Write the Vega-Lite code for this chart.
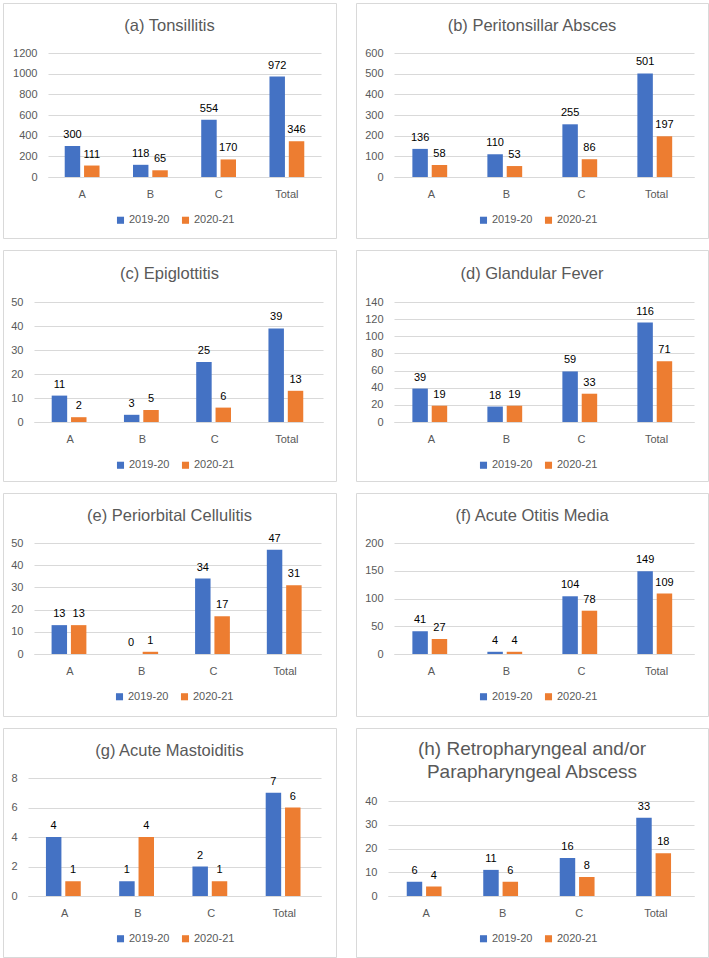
{
  "$schema": "https://vega.github.io/schema/vega-lite/v6.json",
  "padding": {"left": 2, "top": 2, "right": 0, "bottom": 0},
  "background": "white",
  "datasets": {
    "d": [
      {"p": "a", "c": "A", "s": "2019-20", "v": 300}, {"p": "a", "c": "A", "s": "2020-21", "v": 111},
      {"p": "a", "c": "B", "s": "2019-20", "v": 118}, {"p": "a", "c": "B", "s": "2020-21", "v": 65},
      {"p": "a", "c": "C", "s": "2019-20", "v": 554}, {"p": "a", "c": "C", "s": "2020-21", "v": 170},
      {"p": "a", "c": "Total", "s": "2019-20", "v": 972}, {"p": "a", "c": "Total", "s": "2020-21", "v": 346},
      {"p": "b", "c": "A", "s": "2019-20", "v": 136}, {"p": "b", "c": "A", "s": "2020-21", "v": 58},
      {"p": "b", "c": "B", "s": "2019-20", "v": 110}, {"p": "b", "c": "B", "s": "2020-21", "v": 53},
      {"p": "b", "c": "C", "s": "2019-20", "v": 255}, {"p": "b", "c": "C", "s": "2020-21", "v": 86},
      {"p": "b", "c": "Total", "s": "2019-20", "v": 501}, {"p": "b", "c": "Total", "s": "2020-21", "v": 197},
      {"p": "c", "c": "A", "s": "2019-20", "v": 11}, {"p": "c", "c": "A", "s": "2020-21", "v": 2},
      {"p": "c", "c": "B", "s": "2019-20", "v": 3}, {"p": "c", "c": "B", "s": "2020-21", "v": 5},
      {"p": "c", "c": "C", "s": "2019-20", "v": 25}, {"p": "c", "c": "C", "s": "2020-21", "v": 6},
      {"p": "c", "c": "Total", "s": "2019-20", "v": 39}, {"p": "c", "c": "Total", "s": "2020-21", "v": 13},
      {"p": "d", "c": "A", "s": "2019-20", "v": 39}, {"p": "d", "c": "A", "s": "2020-21", "v": 19},
      {"p": "d", "c": "B", "s": "2019-20", "v": 18}, {"p": "d", "c": "B", "s": "2020-21", "v": 19},
      {"p": "d", "c": "C", "s": "2019-20", "v": 59}, {"p": "d", "c": "C", "s": "2020-21", "v": 33},
      {"p": "d", "c": "Total", "s": "2019-20", "v": 116}, {"p": "d", "c": "Total", "s": "2020-21", "v": 71},
      {"p": "e", "c": "A", "s": "2019-20", "v": 13}, {"p": "e", "c": "A", "s": "2020-21", "v": 13},
      {"p": "e", "c": "B", "s": "2019-20", "v": 0}, {"p": "e", "c": "B", "s": "2020-21", "v": 1},
      {"p": "e", "c": "C", "s": "2019-20", "v": 34}, {"p": "e", "c": "C", "s": "2020-21", "v": 17},
      {"p": "e", "c": "Total", "s": "2019-20", "v": 47}, {"p": "e", "c": "Total", "s": "2020-21", "v": 31},
      {"p": "f", "c": "A", "s": "2019-20", "v": 41}, {"p": "f", "c": "A", "s": "2020-21", "v": 27},
      {"p": "f", "c": "B", "s": "2019-20", "v": 4}, {"p": "f", "c": "B", "s": "2020-21", "v": 4},
      {"p": "f", "c": "C", "s": "2019-20", "v": 104}, {"p": "f", "c": "C", "s": "2020-21", "v": 78},
      {"p": "f", "c": "Total", "s": "2019-20", "v": 149}, {"p": "f", "c": "Total", "s": "2020-21", "v": 109},
      {"p": "g", "c": "A", "s": "2019-20", "v": 4}, {"p": "g", "c": "A", "s": "2020-21", "v": 1},
      {"p": "g", "c": "B", "s": "2019-20", "v": 1}, {"p": "g", "c": "B", "s": "2020-21", "v": 4},
      {"p": "g", "c": "C", "s": "2019-20", "v": 2}, {"p": "g", "c": "C", "s": "2020-21", "v": 1},
      {"p": "g", "c": "Total", "s": "2019-20", "v": 7}, {"p": "g", "c": "Total", "s": "2020-21", "v": 6},
      {"p": "h", "c": "A", "s": "2019-20", "v": 6}, {"p": "h", "c": "A", "s": "2020-21", "v": 4},
      {"p": "h", "c": "B", "s": "2019-20", "v": 11}, {"p": "h", "c": "B", "s": "2020-21", "v": 6},
      {"p": "h", "c": "C", "s": "2019-20", "v": 16}, {"p": "h", "c": "C", "s": "2020-21", "v": 8},
      {"p": "h", "c": "Total", "s": "2019-20", "v": 33}, {"p": "h", "c": "Total", "s": "2020-21", "v": 18}
    ]
  },
  "columns": 2,
  "spacing": {"row": 12, "column": 20},
  "bounds": "flush",
  "align": "each",
  "resolve": {"scale": {"color": "independent"}, "legend": {"color": "independent"}},
  "concat": [
    {
      "width": 333, "height": 235,
      "title": {"text": "(a) Tonsillitis", "offset": -31},
      "data": {"name": "d"},
      "transform": [{"filter": "datum.p == 'a'"}],
      "encoding": {
        "x": {"field": "c", "type": "nominal", "sort": ["A", "B", "C", "Total"], "scale": {"range": [45, 318], "paddingInner": 0.49, "paddingOuter": 0.245}, "axis": {"offset": -61, "title": null}},
        "xOffset": {"field": "s", "type": "nominal", "scale": {"paddingInner": 0.2}},
        "y": {"field": "v", "type": "quantitative", "scale": {"domain": [0, 1200], "range": [174, 50], "nice": false}, "axis": {"values": [0, 200, 400, 600, 800, 1000, 1200], "format": "d", "offset": -45, "title": null}}
      },
      "layer": [
        {"mark": "bar", "encoding": {"color": {"field": "s", "type": "nominal", "scale": {"domain": ["2019-20", "2020-21"], "range": ["#4472C4", "#ED7D31"]}, "legend": {"title": null, "legendX": 112, "legendY": 211.5}}}},
        {"mark": {"type": "text", "dy": -8, "baseline": "alphabetic"}, "encoding": {"text": {"field": "v", "type": "quantitative"}}}
      ]
    },
    {
      "width": 352, "height": 235,
      "title": {"text": "(b) Peritonsillar Absces", "offset": -31},
      "data": {"name": "d"},
      "transform": [{"filter": "datum.p == 'b'"}],
      "encoding": {
        "x": {"field": "c", "type": "nominal", "sort": ["A", "B", "C", "Total"], "scale": {"range": [38, 338], "paddingInner": 0.49, "paddingOuter": 0.245}, "axis": {"offset": -61, "title": null}},
        "xOffset": {"field": "s", "type": "nominal", "scale": {"paddingInner": 0.2}},
        "y": {"field": "v", "type": "quantitative", "scale": {"domain": [0, 600], "range": [174, 50], "nice": false}, "axis": {"values": [0, 100, 200, 300, 400, 500, 600], "format": "d", "offset": -38, "title": null}}
      },
      "layer": [
        {"mark": "bar", "encoding": {"color": {"field": "s", "type": "nominal", "scale": {"domain": ["2019-20", "2020-21"], "range": ["#4472C4", "#ED7D31"]}, "legend": {"title": null, "legendX": 122, "legendY": 211.5}}}},
        {"mark": {"type": "text", "dy": -8, "baseline": "alphabetic"}, "encoding": {"text": {"field": "v", "type": "quantitative"}}}
      ]
    },
    {
      "width": 333, "height": 231,
      "title": {"text": "(c) Epiglottitis", "offset": -32.3},
      "data": {"name": "d"},
      "transform": [{"filter": "datum.p == 'c'"}],
      "encoding": {
        "x": {"field": "c", "type": "nominal", "sort": ["A", "B", "C", "Total"], "scale": {"range": [31, 320], "paddingInner": 0.49, "paddingOuter": 0.245}, "axis": {"offset": -59, "title": null}},
        "xOffset": {"field": "s", "type": "nominal", "scale": {"paddingInner": 0.2}},
        "y": {"field": "v", "type": "quantitative", "scale": {"domain": [0, 50], "range": [172, 52], "nice": false}, "axis": {"values": [0, 10, 20, 30, 40, 50], "format": "d", "offset": -31, "title": null}}
      },
      "layer": [
        {"mark": "bar", "encoding": {"color": {"field": "s", "type": "nominal", "scale": {"domain": ["2019-20", "2020-21"], "range": ["#4472C4", "#ED7D31"]}, "legend": {"title": null, "legendX": 112, "legendY": 209.5}}}},
        {"mark": {"type": "text", "dy": -8, "baseline": "alphabetic"}, "encoding": {"text": {"field": "v", "type": "quantitative"}}}
      ]
    },
    {
      "width": 352, "height": 231,
      "title": {"text": "(d) Glandular Fever", "offset": -32.3},
      "data": {"name": "d"},
      "transform": [{"filter": "datum.p == 'd'"}],
      "encoding": {
        "x": {"field": "c", "type": "nominal", "sort": ["A", "B", "C", "Total"], "scale": {"range": [38, 338], "paddingInner": 0.49, "paddingOuter": 0.245}, "axis": {"offset": -59, "title": null}},
        "xOffset": {"field": "s", "type": "nominal", "scale": {"paddingInner": 0.2}},
        "y": {"field": "v", "type": "quantitative", "scale": {"domain": [0, 140], "range": [172, 52], "nice": false}, "axis": {"values": [0, 20, 40, 60, 80, 100, 120, 140], "format": "d", "offset": -38, "title": null}}
      },
      "layer": [
        {"mark": "bar", "encoding": {"color": {"field": "s", "type": "nominal", "scale": {"domain": ["2019-20", "2020-21"], "range": ["#4472C4", "#ED7D31"]}, "legend": {"title": null, "legendX": 122, "legendY": 209.5}}}},
        {"mark": {"type": "text", "dy": -8, "baseline": "alphabetic"}, "encoding": {"text": {"field": "v", "type": "quantitative"}}}
      ]
    },
    {
      "width": 333, "height": 223,
      "title": {"text": "(e) Periorbital Cellulitis", "offset": -31},
      "data": {"name": "d"},
      "transform": [{"filter": "datum.p == 'e'"}],
      "encoding": {
        "x": {"field": "c", "type": "nominal", "sort": ["A", "B", "C", "Total"], "scale": {"range": [31, 318], "paddingInner": 0.49, "paddingOuter": 0.245}, "axis": {"offset": -62, "title": null}},
        "xOffset": {"field": "s", "type": "nominal", "scale": {"paddingInner": 0.2}},
        "y": {"field": "v", "type": "quantitative", "scale": {"domain": [0, 50], "range": [161, 50], "nice": false}, "axis": {"values": [0, 10, 20, 30, 40, 50], "format": "d", "offset": -31, "title": null}}
      },
      "layer": [
        {"mark": "bar", "encoding": {"color": {"field": "s", "type": "nominal", "scale": {"domain": ["2019-20", "2020-21"], "range": ["#4472C4", "#ED7D31"]}, "legend": {"title": null, "legendX": 111, "legendY": 198}}}},
        {"mark": {"type": "text", "dy": -8, "baseline": "alphabetic"}, "encoding": {"text": {"field": "v", "type": "quantitative"}}}
      ]
    },
    {
      "width": 352, "height": 223,
      "title": {"text": "(f) Acute Otitis Media", "offset": -31},
      "data": {"name": "d"},
      "transform": [{"filter": "datum.p == 'f'"}],
      "encoding": {
        "x": {"field": "c", "type": "nominal", "sort": ["A", "B", "C", "Total"], "scale": {"range": [38, 338], "paddingInner": 0.49, "paddingOuter": 0.245}, "axis": {"offset": -62, "title": null}},
        "xOffset": {"field": "s", "type": "nominal", "scale": {"paddingInner": 0.2}},
        "y": {"field": "v", "type": "quantitative", "scale": {"domain": [0, 200], "range": [161, 50], "nice": false}, "axis": {"values": [0, 50, 100, 150, 200], "format": "d", "offset": -38, "title": null}}
      },
      "layer": [
        {"mark": "bar", "encoding": {"color": {"field": "s", "type": "nominal", "scale": {"domain": ["2019-20", "2020-21"], "range": ["#4472C4", "#ED7D31"]}, "legend": {"title": null, "legendX": 122, "legendY": 198}}}},
        {"mark": {"type": "text", "dy": -8, "baseline": "alphabetic"}, "encoding": {"text": {"field": "v", "type": "quantitative"}}}
      ]
    },
    {
      "width": 333, "height": 229,
      "title": {"text": "(g) Acute Mastoiditis", "offset": -31},
      "data": {"name": "d"},
      "transform": [{"filter": "datum.p == 'g'"}],
      "encoding": {
        "x": {"field": "c", "type": "nominal", "sort": ["A", "B", "C", "Total"], "scale": {"range": [25, 318], "paddingInner": 0.49, "paddingOuter": 0.245}, "axis": {"offset": -61, "title": null}},
        "xOffset": {"field": "s", "type": "nominal", "scale": {"paddingInner": 0.2}},
        "y": {"field": "v", "type": "quantitative", "scale": {"domain": [0, 8], "range": [168, 50], "nice": false}, "axis": {"values": [0, 2, 4, 6, 8], "format": "d", "offset": -25, "title": null}}
      },
      "layer": [
        {"mark": "bar", "encoding": {"color": {"field": "s", "type": "nominal", "scale": {"domain": ["2019-20", "2020-21"], "range": ["#4472C4", "#ED7D31"]}, "legend": {"title": null, "legendX": 112, "legendY": 205}}}},
        {"mark": {"type": "text", "dy": -8, "baseline": "alphabetic"}, "encoding": {"text": {"field": "v", "type": "quantitative"}}}
      ]
    },
    {
      "width": 352, "height": 229,
      "title": {"text": ["(h) Retropharyngeal and/or", "Parapharyngeal Abscess"], "offset": -53.7, "lineHeight": 22.7, "fontSize": 19},
      "data": {"name": "d"},
      "transform": [{"filter": "datum.p == 'h'"}],
      "encoding": {
        "x": {"field": "c", "type": "nominal", "sort": ["A", "B", "C", "Total"], "scale": {"range": [32, 338], "paddingInner": 0.49, "paddingOuter": 0.245}, "axis": {"offset": -61, "title": null}},
        "xOffset": {"field": "s", "type": "nominal", "scale": {"paddingInner": 0.2}},
        "y": {"field": "v", "type": "quantitative", "scale": {"domain": [0, 40], "range": [168, 73], "nice": false}, "axis": {"values": [0, 10, 20, 30, 40], "format": "d", "offset": -32, "title": null}}
      },
      "layer": [
        {"mark": "bar", "encoding": {"color": {"field": "s", "type": "nominal", "scale": {"domain": ["2019-20", "2020-21"], "range": ["#4472C4", "#ED7D31"]}, "legend": {"title": null, "legendX": 122, "legendY": 205}}}},
        {"mark": {"type": "text", "dy": -8, "baseline": "alphabetic"}, "encoding": {"text": {"field": "v", "type": "quantitative"}}}
      ]
    }
  ],
  "config": {
    "font": "Liberation Sans",
    "view": {"stroke": "#d9d9d9", "strokeWidth": 1},
    "title": {"anchor": "middle", "frame": "group", "baseline": "alphabetic", "font": "Liberation Sans", "fontSize": 16.5, "fontWeight": "normal", "color": "#595959"},
    "axis": {"labelFont": "Liberation Sans", "labelFontSize": 11, "labelColor": "#595959", "ticks": false, "domain": false, "grid": false},
    "axisY": {"grid": true, "gridColor": "#d9d9d9", "gridWidth": 1, "labelPadding": 11},
    "axisX": {"domain": true, "domainColor": "#d9d9d9", "domainWidth": 1, "labelPadding": 11, "labelAngle": 0},
    "legend": {"orient": "none", "direction": "horizontal", "symbolType": "square", "symbolSize": 50, "symbolStrokeWidth": 0, "labelFont": "Liberation Sans", "labelFontSize": 11, "labelColor": "#595959", "columnPadding": 10, "labelOffset": 3, "padding": 0},
    "text": {"font": "Liberation Sans", "fontSize": 11, "color": "#000000", "align": "center"}
  }
}
